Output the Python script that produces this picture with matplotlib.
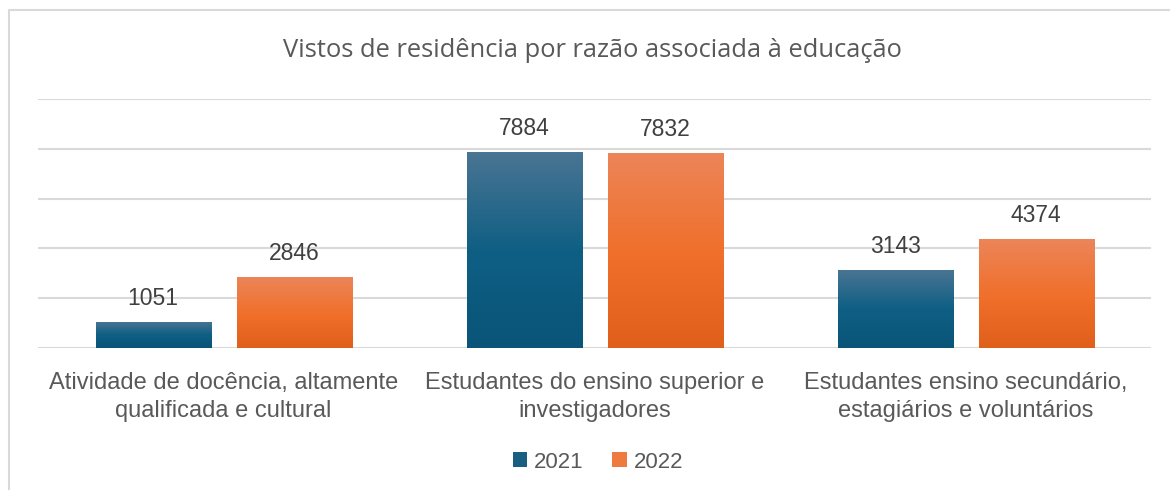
import numpy as np
import matplotlib
matplotlib.use("Agg")
import matplotlib.pyplot as plt
from matplotlib.colors import LinearSegmentedColormap
from matplotlib.lines import Line2D
from matplotlib.patches import Patch

categories = ["Atividade de docência, altamente\nqualificada e cultural",
              "Estudantes do ensino superior e\ninvestigadores",
              "Estudantes ensino secundário,\nestagiários e voluntários"]
years = ["2021", "2022"]
values_2021 = [1051, 7884, 3143]
values_2022 = [2846, 7832, 4374]

# gradients, top -> bottom
blue_cmap = LinearSegmentedColormap.from_list("b", ["#4b7593", "#0f5f84", "#0a5479"])
orange_cmap = LinearSegmentedColormap.from_list("o", ["#ec8559", "#f0702c", "#df5f1b"])

plt.rcParams['font.family'] = ['Liberation Sans', 'DejaVu Sans']
fig = plt.figure(figsize=(11.7, 4.9), dpi=100)
ax = fig.add_axes([0.0325, 0.2898, 0.9513, 0.5082])

x = np.arange(len(categories))
width = 0.31
offset = 0.19
grad = np.linspace(0, 1, 256).reshape(-1, 1)

ax.set_xlim(-0.5, 2.5)
ax.set_ylim(0, 10000)

for vals, off, cmap in [(values_2021, -offset, blue_cmap), (values_2022, offset, orange_cmap)]:
    bars = ax.bar(x + off, vals, width, color="none", zorder=3)
    for b, v in zip(bars, vals):
        x0 = b.get_x()
        im = ax.imshow(grad, cmap=cmap, aspect="auto", zorder=3,
                       extent=[x0, x0 + width, 0, v], origin="upper")
        im.set_clip_path(b)
        ax.text(x0 + width / 2, v + 480, str(v), ha="center", va="bottom",
                fontsize=16.5, color="#404040")

ax.set_xlim(-0.5, 2.5)
ax.set_ylim(0, 10000)
ax.set_yticks(np.arange(0, 10001, 2000))
ax.yaxis.grid(True, color="#d9d9d9", linewidth=1.5, zorder=0)
ax.set_yticklabels([])
ax.tick_params(axis="y", length=0)
ax.tick_params(axis="x", length=0, pad=17)
ax.set_xticks(x)
ax.set_xticklabels(categories, fontsize=17, color="#595959", linespacing=1.4)
for s in ax.spines.values():
    s.set_visible(False)

fig.text(0.506, 0.897, "Vistos de residência por razão associada à educação",
         ha="center", va="center", fontsize=18.4, color="#595959", family="Open Sans")

handles = [Patch(facecolor="#1a5e82"), Patch(facecolor="#ee7a40")]
fig.legend(handles, years, loc="center", bbox_to_anchor=(0.511, 0.057), ncol=2,
           frameon=False, fontsize=16, labelcolor="#595959", handlelength=0.65,
           handleheight=0.65, handletextpad=0.3, columnspacing=1.3)

# chart border
fig.add_artist(Line2D([9 / 1170, 9 / 1170, 1.0], [0, 1 - 10 / 490, 1 - 10 / 490],
                      transform=fig.transFigure, color="#d9d9d9", linewidth=1.5))

fig.savefig("out.png", dpi=100)
